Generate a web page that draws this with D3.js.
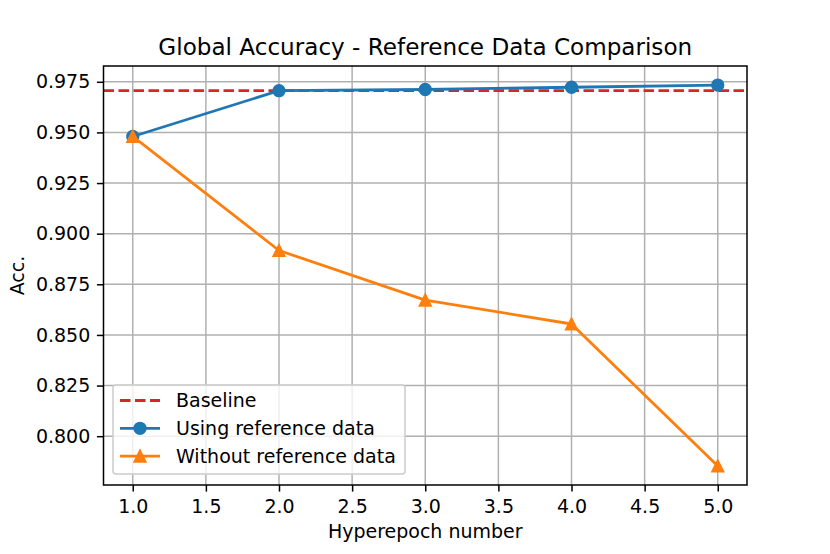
<html>
<head>
<title>Global Accuracy - Reference Data Comparison</title>
<script type="text/javascript" src="https://cdn.jsdelivr.net/npm/d3@7/dist/d3.min.js"></script>
<style>
body { margin: 0; background: #fff; }
text { font-family: "DejaVu Sans", sans-serif; fill: #000; }
</style>
</head>
<body>
<div id="chart"></div>
<script type="text/javascript">
// values
var epochs = [1, 2, 3, 4, 5];
var withRef = [0.948, 0.9706, 0.9712, 0.9723, 0.9734];
var withoutRef = [0.948, 0.8917, 0.8672, 0.8554, 0.7853];
var baseline = 0.9706;
var xTicks = [1.0, 1.5, 2.0, 2.5, 3.0, 3.5, 4.0, 4.5, 5.0];
var yTicks = [0.800, 0.825, 0.850, 0.875, 0.900, 0.925, 0.950, 0.975];

drawChart('#chart', 830, 554);

function triangle(s)
{
    // matplotlib style '^' marker, centred on the point
    var h = s / 2;
    return "M0," + (-h) + "L" + h + "," + h + "L" + (-h) + "," + h + "Z";
}

function drawChart(id, W, H)
{
    var pl = 103.5, pr = 747, pt = 66, pb = 485;
    var fs = "19px";

    var svg = d3.select(id).append("svg")
        .attr("width", W).attr("height", H);

    var x = d3.scaleLinear().domain([0.8, 5.2]).range([pl, pr]);
    var y = d3.scaleLinear().domain([0.7759, 0.9828]).range([pb, pt]);

    // grid
    svg.append("g").selectAll("line").data(xTicks).enter().append("line")
        .attr("x1", function(d) { return x(d); }).attr("x2", function(d) { return x(d); })
        .attr("y1", pt).attr("y2", pb)
        .style("stroke", "#b0b0b0").style("stroke-width", 1.5);
    svg.append("g").selectAll("line").data(yTicks).enter().append("line")
        .attr("y1", function(d) { return y(d); }).attr("y2", function(d) { return y(d); })
        .attr("x1", pl).attr("x2", pr)
        .style("stroke", "#b0b0b0").style("stroke-width", 1.5);

    // axes
    var xAxis = d3.axisBottom(x).tickValues(xTicks).tickFormat(d3.format(".1f")).tickSize(6.6).tickPadding(6.6);
    var yAxis = d3.axisLeft(y).tickValues(yTicks).tickFormat(d3.format(".3f")).tickSize(6.6).tickPadding(6.6);
    var gx = svg.append("g").attr("transform", "translate(0," + pb + ")").call(xAxis);
    var gy = svg.append("g").attr("transform", "translate(" + pl + ",0)").call(yAxis);
    [gx, gy].forEach(function(g) {
        g.select(".domain").remove();
        g.selectAll("line").style("stroke", "#000").style("stroke-width", 1.5);
        g.selectAll("text").style("font-size", fs).style("font-family", "DejaVu Sans");
    });
    gx.selectAll("text").attr("dy", "0.76em");

    // baseline
    svg.append("line")
        .attr("x1", pl).attr("x2", pr)
        .attr("y1", y(baseline)).attr("y2", y(baseline))
        .style("stroke", "#d62728").style("stroke-width", 2.8)
        .style("stroke-dasharray", "10.5,4.5");

    var line = d3.line()
        .x(function(d, i) { return x(epochs[i]); })
        .y(function(d) { return y(d); });

    svg.append("path").datum(withRef).attr("d", line)
        .style("fill", "none").style("stroke", "#1f77b4").style("stroke-width", 2.8)
        .style("stroke-linejoin", "round");
    svg.append("g").selectAll("circle").data(withRef).enter().append("circle")
        .attr("cx", function(d, i) { return x(epochs[i]); })
        .attr("cy", function(d) { return y(d); })
        .attr("r", 5.7)
        .style("fill", "#1f77b4").style("stroke", "#1f77b4").style("stroke-width", 1.9);

    svg.append("path").datum(withoutRef).attr("d", line)
        .style("fill", "none").style("stroke", "#ff7f0e").style("stroke-width", 2.8)
        .style("stroke-linejoin", "round");
    svg.append("g").selectAll("path").data(withoutRef).enter().append("path")
        .attr("d", triangle(11.3))
        .attr("transform", function(d, i) { return "translate(" + x(epochs[i]) + "," + y(d) + ")"; })
        .style("fill", "#ff7f0e").style("stroke", "#ff7f0e").style("stroke-width", 1.9);

    // frame
    svg.append("rect").attr("x", pl).attr("y", pt)
        .attr("width", pr - pl).attr("height", pb - pt)
        .style("fill", "none").style("stroke", "#000").style("stroke-width", 1.5);

    // titles
    svg.append("text").attr("x", (pl + pr) / 2).attr("y", 55)
        .attr("text-anchor", "middle").style("font-size", "23.1px")
        .text("Global Accuracy - Reference Data Comparison");
    svg.append("text").attr("x", (pl + pr) / 2).attr("y", 538)
        .attr("text-anchor", "middle").style("font-size", fs)
        .text("Hyperepoch number");
    svg.append("text").attr("transform", "translate(24," + ((pt + pb) / 2) + ") rotate(-90)")
        .attr("text-anchor", "middle").style("font-size", fs)
        .text("Acc.");

    // legend
    var legendItems = [
        { label: "Baseline", color: "#d62728", dash: "10.5,4.5", marker: null },
        { label: "Using reference data", color: "#1f77b4", dash: null, marker: "circle" },
        { label: "Without reference data", color: "#ff7f0e", dash: null, marker: "triangle" }
    ];
    var lg = svg.append("g");
    lg.append("rect").attr("x", 113).attr("y", 385).attr("width", 292).attr("height", 89)
        .attr("rx", 3).style("fill", "#fff").style("fill-opacity", 0.8)
        .style("stroke", "#cccccc").style("stroke-width", 1.5);
    var rows = lg.selectAll("g.item").data(legendItems).enter().append("g")
        .attr("transform", function(d, i) { return "translate(120," + (400.5 + i * 27.8) + ")"; });
    rows.append("line").attr("x1", 0).attr("x2", 40).attr("y1", 0).attr("y2", 0)
        .style("stroke", function(d) { return d.color; }).style("stroke-width", 2.8)
        .style("stroke-dasharray", function(d) { return d.dash; });
    rows.filter(function(d) { return d.marker == "circle"; }).append("circle")
        .attr("cx", 20).attr("cy", 0).attr("r", 5.7)
        .style("fill", function(d) { return d.color; })
        .style("stroke", function(d) { return d.color; }).style("stroke-width", 1.9);
    rows.filter(function(d) { return d.marker == "triangle"; }).append("path")
        .attr("d", triangle(11.3))
        .attr("transform", "translate(20,0)")
        .style("fill", function(d) { return d.color; })
        .style("stroke", function(d) { return d.color; }).style("stroke-width", 1.9);
    rows.append("text").attr("x", 56).attr("y", 0).attr("dy", "0.36em")
        .style("font-size", fs).text(function(d) { return d.label; });
}
</script>
</body>
</html>
